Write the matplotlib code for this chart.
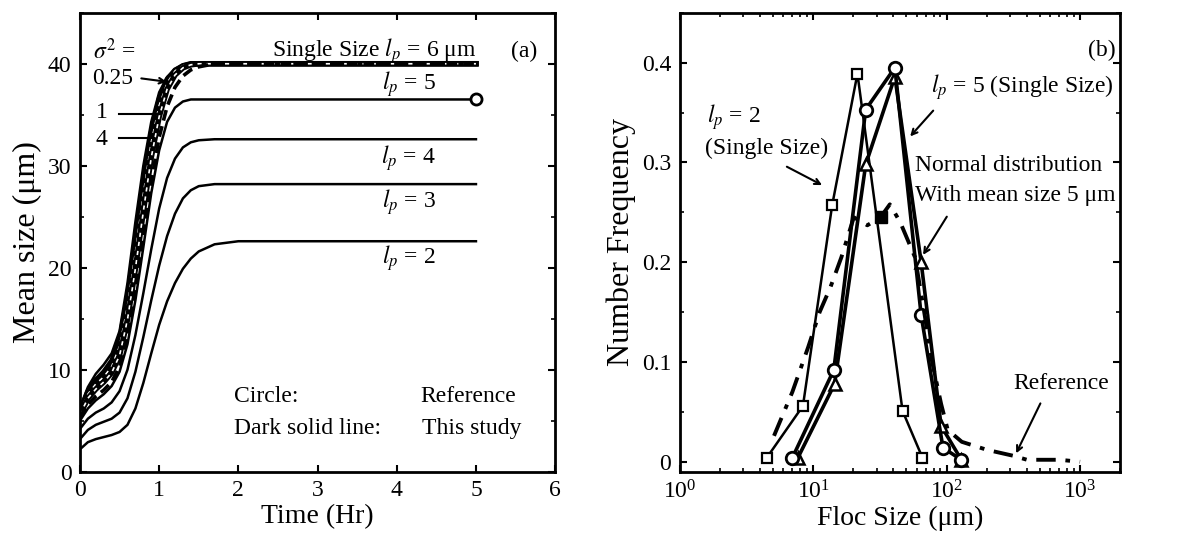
import matplotlib.pyplot as plt
from matplotlib.ticker import MultipleLocator, LogLocator, NullFormatter

plt.rcParams['font.family'] = ['Liberation Serif', 'DejaVu Serif']
plt.rcParams['mathtext.fontset'] = 'stix'

# (a) mean floc size (um) against time (hr)
t = [0, 0.1, 0.2, 0.3, 0.4, 0.5, 0.6, 0.7, 0.8, 0.9, 1.0, 1.1, 1.2, 1.3, 1.4, 1.5, 1.7, 2.0, 5.0]
lp6_single = [6.3, 8.3, 9.6, 10.5, 11.6, 13.8, 18.5, 24.5, 30.0, 34.3, 37.2, 38.7, 39.4, 39.8, 40, 40, 40, 40, 40]
lp6_study = [6.0, 7.9, 9.0, 9.8, 10.9, 13.0, 17.2, 22.8, 28.5, 33.3, 36.6, 38.5, 39.4, 39.8, 40, 40, 40, 40, 40]
sig_025 = [5.9, 7.6, 8.6, 9.3, 10.3, 12.3, 16.2, 21.5, 27.2, 32.3, 35.9, 38.1, 39.3, 39.8, 40, 40, 40, 40, 40]
sig_1 = [5.6, 7.2, 8.1, 8.8, 9.7, 11.4, 14.9, 19.9, 25.5, 30.8, 34.8, 37.5, 38.9, 39.6, 39.9, 40, 40, 40, 40]
sig_4 = [5.3, 6.6, 7.4, 8.0, 8.8, 10.3, 13.3, 18.0, 23.2, 28.4, 32.8, 35.8, 37.7, 38.8, 39.4, 39.7, 40, 40, 40]
lp5 = [5.0, 6.2, 7.0, 7.6, 8.4, 9.8, 12.5, 16.8, 22.0, 27.3, 31.5, 34.3, 35.7, 36.3, 36.5, 36.5, 36.5, 36.5, 36.5]
lp4 = [4.2, 5.2, 5.8, 6.2, 6.8, 7.9, 10.0, 13.4, 17.5, 21.8, 25.8, 28.8, 30.7, 31.8, 32.3, 32.5, 32.6, 32.6, 32.6]
lp3 = [3.2, 4.1, 4.6, 4.9, 5.2, 5.8, 7.2, 9.8, 13.2, 16.8, 20.2, 23.1, 25.3, 26.8, 27.6, 28.0, 28.2, 28.2, 28.2]
lp2 = [2.2, 2.9, 3.2, 3.4, 3.6, 3.9, 4.6, 6.2, 8.7, 11.6, 14.4, 16.7, 18.5, 19.9, 20.9, 21.6, 22.3, 22.6, 22.6]
ref_t = [5.0]
ref_size = [36.5]

# (b) number frequency against floc size (um)
sq_x = [4.5, 8.4, 13.9, 21.5, 46.8, 66]
sq_y = [0.004, 0.056, 0.257, 0.389, 0.051, 0.004]
ci_x = [7.0, 14.3, 24.8, 41, 64.5, 94, 129]
ci_y = [0.004, 0.092, 0.353, 0.395, 0.147, 0.014, 0.002]
tr_x = [7.7, 14.5, 24.8, 41, 64.5, 91, 129]
tr_y = [0.004, 0.078, 0.298, 0.386, 0.200, 0.036, 0.002]
nd_x = [5.1, 7, 9.2, 11.2, 13.5, 16.3, 20.2, 25.5, 32, 37.6, 45, 58, 68, 78, 91, 102, 130, 200, 316, 400, 700, 1000]
nd_y = [0.026, 0.07, 0.115, 0.150, 0.175, 0.205, 0.245, 0.237, 0.245, 0.258, 0.24, 0.205, 0.15, 0.10,
        0.058, 0.032, 0.02, 0.012, 0.006, 0.002, 0.002, 0.0]
nd_mark_x = [32]
nd_mark_y = [0.245]

fs_tick = 17
fs_xlab = 20
fs_ylab = 23
fs_txt = 17

fig = plt.figure(figsize=(11.88, 5.55), dpi=100)
ax1 = fig.add_axes([0.0673, 0.150, 0.400, 0.827])
ax2 = fig.add_axes([0.572, 0.150, 0.371, 0.827])

# ---- panel (a)
for y in (lp6_single, lp5, lp4, lp3, lp2):
    ax1.plot(t, y, color='black', lw=1.8)
ax1.plot(t, lp6_study, color='black', lw=3.5)
for y in (sig_025, sig_1):
    ax1.plot(t, y, color='black', lw=4.0)
    ax1.plot(t, y, color='white', lw=1.2, dashes=(2.5, 3))
ax1.plot(t, sig_4, color='black', lw=2.6, dashes=(3, 1.6))
ax1.plot(ref_t, ref_size, 'o', ms=8, mfc='white', mec='black', mew=2)

ax1.set_xlim(0, 6)
ax1.set_ylim(0, 45)
ax1.xaxis.set_major_locator(MultipleLocator(1))
ax1.yaxis.set_major_locator(MultipleLocator(10))
ax1.yaxis.set_minor_locator(MultipleLocator(5))
ax1.set_xlabel('Time (Hr)', fontsize=fs_xlab, labelpad=2)
ax1.set_ylabel('Mean size (μm)', fontsize=fs_ylab, labelpad=4)

ax1.text(0.17, 41.2, r'$\sigma^2$ =', fontsize=fs_txt, va='center')
ax1.text(0.16, 38.6, '0.25', fontsize=fs_txt, va='center')
ax1.text(0.2, 35.2, '1', fontsize=fs_txt, va='center')
ax1.text(0.2, 32.6, '4', fontsize=fs_txt, va='center')
ax1.annotate('', xy=(1.13, 38.2), xytext=(0.74, 38.6),
             arrowprops=dict(arrowstyle='->', color='black', lw=1.5))
ax1.plot([0.49, 1.0], [35.1, 35.1], color='black', lw=1.5)
ax1.plot([0.49, 0.93], [32.7, 32.7], color='black', lw=1.5)
ax1.text(5.0, 41.2, r'Single Size $l_p$ = 6 μm', fontsize=fs_txt, va='center', ha='right')
ax1.text(5.78, 41.2, '(a)', fontsize=fs_txt, va='center', ha='right')
ax1.text(4.15, 38.0, r'$l_p$ = 5', fontsize=fs_txt, va='center', ha='center')
ax1.text(4.15, 30.8, r'$l_p$ = 4', fontsize=fs_txt, va='center', ha='center')
ax1.text(4.15, 26.4, r'$l_p$ = 3', fontsize=fs_txt, va='center', ha='center')
ax1.text(4.15, 20.9, r'$l_p$ = 2', fontsize=fs_txt, va='center', ha='center')
ax1.text(1.95, 7.4, 'Circle:', fontsize=fs_txt, va='center')
ax1.text(4.3, 7.4, 'Reference', fontsize=fs_txt, va='center')
ax1.text(1.95, 4.2, 'Dark solid line:', fontsize=fs_txt, va='center')
ax1.text(4.32, 4.2, 'This study', fontsize=fs_txt, va='center')

# ---- panel (b)
ax2.plot(sq_x, sq_y, '-s', color='black', lw=1.8, ms=7, mfc='white', mec='black', mew=1.6)
ax2.plot(tr_x, tr_y, '-^', color='black', lw=2.6, ms=8, mfc='white', mec='black', mew=1.8)
ax2.plot(ci_x, ci_y, '-o', color='black', lw=2.6, ms=9, mfc='white', mec='black', mew=2)
ax2.plot(nd_x, nd_y, color='black', lw=2.8, dashes=(5, 2.5, 1.2, 2.5))
ax2.plot(nd_mark_x, nd_mark_y, 's', color='black', ms=8)

ax2.set_xscale('log')
ax2.set_xlim(1, 2000)
ax2.set_ylim(-0.01, 0.45)
ax2.yaxis.set_major_locator(MultipleLocator(0.1))
ax2.yaxis.set_minor_locator(MultipleLocator(0.05))
ax2.xaxis.set_major_locator(LogLocator(base=10, numticks=10))
ax2.xaxis.set_minor_locator(LogLocator(base=10, subs=range(2, 10), numticks=10))
ax2.xaxis.set_minor_formatter(NullFormatter())
ax2.set_yticks([0, 0.1, 0.2, 0.3, 0.4])
ax2.set_yticklabels(['0', '0.1', '0.2', '0.3', '0.4'])
ax2.set_xlabel('Floc Size (μm)', fontsize=fs_xlab, labelpad=2)
ax2.set_ylabel('Number Frequency', fontsize=fs_ylab, labelpad=4)

ax2.text(1450, 0.412, '(b)', fontsize=fs_txt, va='center', ha='center')
ax2.text(77, 0.375, r'$l_p$ = 5 (Single Size)', fontsize=fs_txt, va='center')
ax2.annotate('', xy=(51.7, 0.324), xytext=(82, 0.354),
             arrowprops=dict(arrowstyle='->', color='black', lw=1.5))
ax2.text(1.6, 0.345, r'$l_p$ = 2', fontsize=fs_txt, va='center')
ax2.text(1.55, 0.314, '(Single Size)', fontsize=fs_txt, va='center')
ax2.annotate('', xy=(12.2, 0.276), xytext=(6.1, 0.297),
             arrowprops=dict(arrowstyle='->', color='black', lw=1.5))
ax2.text(58, 0.297, 'Normal distribution', fontsize=fs_txt, va='center')
ax2.text(58, 0.267, 'With mean size 5 μm', fontsize=fs_txt, va='center')
ax2.annotate('', xy=(65, 0.205), xytext=(103, 0.248),
             arrowprops=dict(arrowstyle='->', color='black', lw=1.5))
ax2.text(316, 0.078, 'Reference', fontsize=fs_txt, va='center')
ax2.annotate('', xy=(325, 0.006), xytext=(515, 0.061),
             arrowprops=dict(arrowstyle='->', color='black', lw=1.5))

for ax in (ax1, ax2):
    ax.tick_params(which='both', direction='in', top=True, right=True, labelsize=fs_tick)
    ax.tick_params(which='major', length=5, width=1.5, pad=6)
    ax.tick_params(which='minor', length=3, width=1.2)
    for s in ax.spines.values():
        s.set_linewidth(2)

fig.savefig('out.png', dpi=100)
